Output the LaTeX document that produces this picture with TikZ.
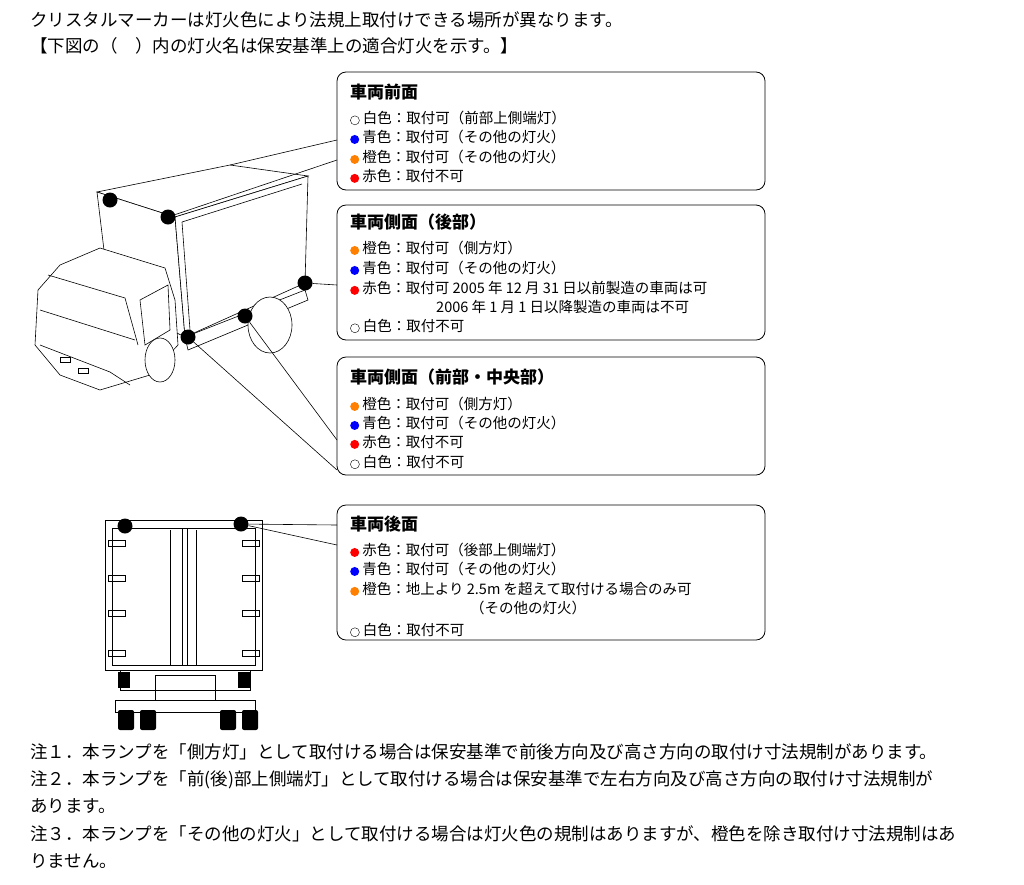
\documentclass[tikz,border=0pt]{standalone}
\usepackage{fontspec}
\setmainfont{Noto Sans CJK JP}
\begin{document}
\begin{tikzpicture}[x=1pt,y=-1pt,
 box/.style={draw,thick,rounded corners=9pt},
 dot/.style={circle,fill=black,inner sep=0pt,minimum size=15pt},
 ln/.style={line width=0.6pt},
 t/.style={anchor=west,inner sep=0pt,font=\fontsize{14.5}{16}\selectfont},
 h/.style={anchor=west,inner sep=0pt,font=\fontsize{17}{19}\selectfont\bfseries}]
\useasboundingbox (0,0) rectangle (1024,884);
\newcommand{\cdt}[1]{\tikz[baseline=-3pt]\fill[#1] (0,0) circle (4.5pt);}
\newcommand{\wdot}{\tikz[baseline=-3pt]\draw (0,0) circle (4.5pt);}
\node[anchor=west,inner sep=0pt,font=\fontsize{17.5}{19}\selectfont] (l1) at (30,20) {クリスタルマーカーは灯火色により法規上取付けできる場所が異なります。};
\node[anchor=west,inner sep=0pt,font=\fontsize{17.5}{19}\selectfont] (l2) at (30,46) {【下図の（　）内の灯火名は保安基準上の適合灯火を示す。】};
% truck side view
\draw[ln,fill=white] (97,192)--(230,165)--(308,176)--(175,217)--cycle;
\draw[ln,fill=white] (97,192)--(175,217)--(185,337)--(110,300)--cycle;
\draw[ln,fill=white] (175,217)--(308,176)--(305,283)--(185,337)--cycle;
\draw[ln] (182,222)--(302,184); \draw[ln] (182,222)--(190,330);
\draw[ln,fill=white] (185,337)--(305,290)--(308,300)--(188,350)--cycle;
\draw[ln,fill=white] (270,325) ellipse (22pt and 28pt);
\draw[ln,fill=white] (60,265)--(100,248)--(165,268)--(175,300)--(178,345)--(150,375)--(100,390)--(60,375)--(35,345)--(38,290)--cycle;
\draw[ln] (48,275)--(125,298)--(138,345); \draw[ln] (40,310)--(135,340);
\draw[ln] (140,300)--(168,285)--(170,330)--(145,345)--cycle;
\draw[ln] (40,345)--(110,372)--(130,385);
\draw[ln,fill=white] (160,360) ellipse (15pt and 22pt);
\draw[ln] (60,357) rectangle (70,362); \draw[ln] (78,368) rectangle (88,373);
\node[dot] (d1) at (110,200) {};
\node[dot] (d2) at (168,217) {};
\node[dot] (d3) at (305,283) {};
\node[dot] (d4) at (245,316) {};
\node[dot] (d5) at (188,337) {};
% rear view
\draw[ln,fill=white] (105,520) rectangle (262,670);
\draw[ln] (112,528) rectangle (255,665);
\draw[ln] (182,528)--(182,665); \draw[ln] (187,528)--(187,665);
\foreach \x in {170,196}{\draw[ln] (\x,530)--(\x,665);}
\foreach \y in {540,575,610,650}{\draw[ln] (108,\y) rectangle (125,\y+6); \draw[ln] (242,\y) rectangle (259,\y+6);}
\draw[ln] (120,670) rectangle (250,690);
\draw[ln] (155,675) rectangle (215,700);
\fill (118,672) rectangle (130,688); \fill (238,672) rectangle (250,688);
\foreach \x in {118,140,220,242}{\fill[rounded corners=2pt] (\x,710) rectangle (\x+16,730);}
\draw[ln] (115,700) rectangle (255,712);
\node[dot] (d6) at (125,526) {};
\node[dot] (d7) at (241,524) {};
% boxes
\draw[box,fill=white] (337,72) rectangle (765,190);
\draw[box,fill=white] (337,205) rectangle (765,340);
\draw[box,fill=white] (337,357) rectangle (765,475);
\draw[box,fill=white] (337,505) rectangle (765,640);
\coordinate (b1a) at (337,140); \coordinate (b1b) at (337,160);
\draw[ln] (d2)--(b1b); \draw[ln] (b1a)--(230,165);
\coordinate (b2) at (337,285);
\draw[ln] (d3)--(b2);
\coordinate (b3a) at (337,440); \coordinate (b3b) at (337,470);
\draw[ln] (d5)--(b3b); \draw[ln] (d4)--(b3a);
\coordinate (b4a) at (337,525); \coordinate (b4b) at (337,545);
\draw[ln] (d7)--(b4a); \draw[ln] (d7)--(b4b);
% texts
\node[h] at (350,92) {車両前面};
\node[t] at (350,118) {\wdot\ 白色：取付可（前部上側端灯）};
\node[t] at (350,137) {\cdt{blue} 青色：取付可（その他の灯火）};
\node[t] at (350,157) {\cdt{orange} 橙色：取付可（その他の灯火）};
\node[t] at (350,176) {\cdt{red} 赤色：取付不可};
\node[h] at (350,222) {車両側面（後部）};
\node[t] at (350,248) {\cdt{orange} 橙色：取付可（側方灯）};
\node[t] at (350,268) {\cdt{blue} 青色：取付可（その他の灯火）};
\node[t] at (350,288) {\cdt{red} 赤色：取付可 2005 年 12 月 31 日以前製造の車両は可};
\node[t] at (436,307) {2006 年 1 月 1 日以降製造の車両は不可};
\node[t] at (350,326) {\wdot\ 白色：取付不可};
\node[h] at (350,377) {車両側面（前部・中央部）};
\node[t] at (350,404) {\cdt{orange} 橙色：取付可（側方灯）};
\node[t] at (350,423) {\cdt{blue} 青色：取付可（その他の灯火）};
\node[t] at (350,442) {\cdt{red} 赤色：取付不可};
\node[t] at (350,462) {\wdot\ 白色：取付不可};
\node[h] at (350,524) {車両後面};
\node[t] at (350,550) {\cdt{red} 赤色：取付可（後部上側端灯）};
\node[t] at (350,569) {\cdt{blue} 青色：取付可（その他の灯火）};
\node[t] at (350,589) {\cdt{orange} 橙色：地上より 2.5m を超えて取付ける場合のみ可};
\node[t] at (470,608) {（その他の灯火）};
\node[t] at (350,630) {\wdot\ 白色：取付不可};
\begin{scope}[every node/.style={anchor=west,inner sep=0pt,font=\fontsize{17.5}{19}\selectfont}]
\node (n1) at (30,752) {注１．本ランプを「側方灯」として取付ける場合は保安基準で前後方向及び高さ方向の取付け寸法規制があります。};
\node (n2) at (30,780) {注２．本ランプを「前(後)部上側端灯」として取付ける場合は保安基準で左右方向及び高さ方向の取付け寸法規制が};
\node (n2b) at (30,806) {あります。};
\node (n3) at (30,834) {注３．本ランプを「その他の灯火」として取付ける場合は灯火色の規制はありますが、橙色を除き取付け寸法規制はあ};
\node (n3b) at (30,861) {りません。};
\end{scope}
\end{tikzpicture}
\end{document}
